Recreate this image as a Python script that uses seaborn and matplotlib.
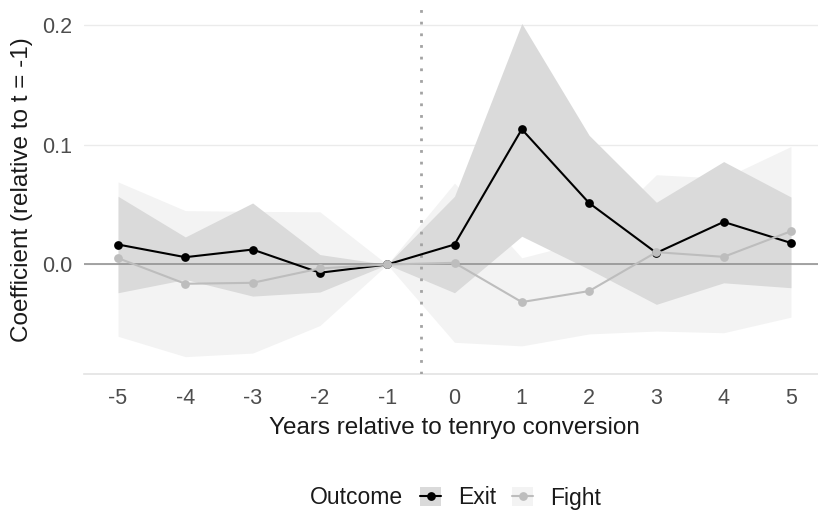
import matplotlib
matplotlib.use("Agg")
import matplotlib.pyplot as plt
from matplotlib.lines import Line2D
from matplotlib.patches import Patch
import seaborn as sns
import pandas as pd

# Event-study estimates: years relative to tenryo conversion
years = [-5, -4, -3, -2, -1, 0, 1, 2, 3, 4, 5]

exit_coef = [0.0167, 0.0061, 0.0125, -0.0069, 0.0, 0.0167, 0.113, 0.0514, 0.0097, 0.0356, 0.018]
exit_lo = [-0.0236, -0.0125, -0.0264, -0.023, 0.0, -0.0236, 0.0236, -0.004, -0.0333, -0.0153, -0.0194]
exit_hi = [0.057, 0.023, 0.0514, 0.0083, 0.0, 0.057, 0.2014, 0.108, 0.052, 0.086, 0.0564]

fight_coef = [0.0053, -0.0161, -0.0153, -0.0033, 0.0, 0.0014, -0.0314, -0.0222, 0.0103, 0.0064, 0.0278]
fight_lo = [-0.060, -0.077, -0.074, -0.051, 0.0, -0.065, -0.068, -0.058, -0.0556, -0.057, -0.044]
fight_hi = [0.069, 0.045, 0.0444, 0.044, 0.0, 0.068, 0.0056, 0.020, 0.075, 0.072, 0.0986]

outcomes = ["Exit", "Fight"]
line_colors = {"Exit": "#000000", "Fight": "#bdbdbd"}
band_colors = {"Exit": "#dadada", "Fight": "#f3f3f3"}

df = pd.concat([
    pd.DataFrame({"year": years, "coef": exit_coef, "Outcome": "Exit"}),
    pd.DataFrame({"year": years, "coef": fight_coef, "Outcome": "Fight"}),
])

sns.set_theme(style="white")
plt.rcParams["font.family"] = ["Liberation Sans", "DejaVu Sans"]

fig = plt.figure(figsize=(8.18, 5.14), dpi=100)
ax = fig.add_axes([84.4 / 818, 1 - 374 / 514, 740.2 / 818, 368 / 514])

# Confidence bands
ax.fill_between(years, fight_lo, fight_hi, color=band_colors["Fight"], lw=0, zorder=1)
ax.fill_between(years, exit_lo, exit_hi, color=band_colors["Exit"], lw=0, zorder=2)

# Reference lines
ax.axhline(0, color="#8c8c8c", lw=1.1, zorder=3)
ax.axvline(-0.5, color="#a3a3a3", lw=2.0, ls=(0, (1, 3.2)), zorder=3)

sns.lineplot(data=df, x="year", y="coef", hue="Outcome", hue_order=["Exit", "Fight"],
             palette=line_colors, marker="o", markersize=6.3, markeredgewidth=0,
             linewidth=1.5, errorbar=None, legend=False, ax=ax, zorder=5)

ax.set_xlim(-5.5, 5.5)
ax.set_ylim(-0.0915, 0.216)
ax.set_xticks(years)
ax.set_xticklabels([str(y) for y in years])
ax.set_yticks([0.0, 0.1, 0.2])
ax.set_yticklabels(["0.0", "0.1", "0.2"])
ax.grid(axis="y", color="#ebebeb", lw=1.0, zorder=0)
ax.set_axisbelow(True)
for side in ["top", "right", "left"]:
    ax.spines[side].set_visible(False)
ax.spines["bottom"].set_color("#e3e3e3")
ax.spines["bottom"].set_linewidth(1.2)
ax.tick_params(axis="both", length=0, labelsize=15.5, labelcolor="#4d4d4d")
ax.tick_params(axis="x", pad=10)
ax.tick_params(axis="y", pad=9)
ax.set_xlabel("Years relative to tenryo conversion", fontsize=17.5, color="#1a1a1a", labelpad=6)
ax.set_ylabel("Coefficient (relative to t = -1)", fontsize=17.5, color="#1a1a1a", labelpad=6)

# Legend along the bottom
handles = [
    (Patch(facecolor=band_colors[o], edgecolor="none"),
     Line2D([], [], color=line_colors[o], lw=1.5, marker="o", markersize=6.3, markeredgewidth=0))
    for o in outcomes
]
fig.text(310 / 818, 1 - 498 / 514, "Outcome", fontsize=16.5, color="#1a1a1a", va="center", ha="left")
fig.legend(handles, outcomes, loc="center left", bbox_to_anchor=(420 / 818, 1 - 498 / 514),
           ncol=2, frameon=False, fontsize=16.5, handlelength=0.92, handleheight=0.92,
           handletextpad=0.74, columnspacing=0.7, borderpad=0, borderaxespad=0,
           labelcolor="#1a1a1a")

fig.savefig("out.png", dpi=100)
